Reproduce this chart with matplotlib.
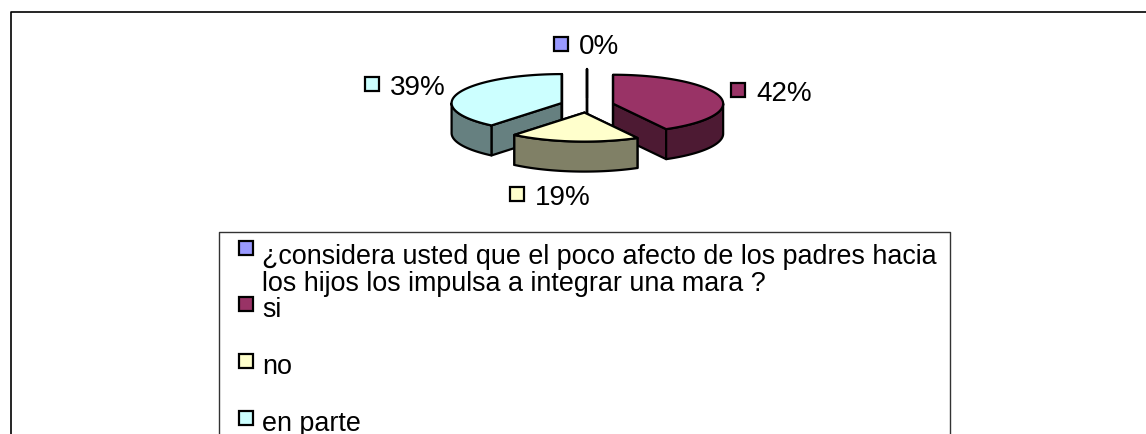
import numpy as np
import matplotlib
matplotlib.use("Agg")
import matplotlib.pyplot as plt

plt.rcParams['font.family'] = ['Liberation Sans', 'DejaVu Sans']

# chart values
categories = ["¿considera usted que el poco afecto de los padres hacia\nlos hijos los impulsa a integrar una mara ?", "si", "no", "en parte"]
values = [0, 42, 19, 39]
top_colors = ["#9999FF", "#993366", "#FFFFCC", "#CCFFFF"]
side_colors = ["#4D4D80", "#4D1A33", "#808066", "#668080"]

# pie geometry in image pixels
cx, cy = 587, 106.5
rx, ry = 110, 29
depth = 30
explode = 27
label_size = 20
legend_size = 19.4

fig = plt.figure(figsize=(11.46, 4.35), dpi=100)
ax = fig.add_axes([0, 0, 1, 1])
ax.set_xlim(0, 1146)
ax.set_ylim(435, 0)
ax.axis("off")

def rim(apex, a):
    # a is degrees clockwise from the top
    t = np.radians(a)
    return apex[0] + rx * np.sin(t), apex[1] - ry * np.cos(t)

def draw_slice(start, end, top, side):
    mid = np.radians((start + end) / 2)
    apex = (cx + explode * np.sin(mid), cy - explode * ry / rx * np.cos(mid))
    kw = dict(edgecolor="black", linewidth=1.6, joinstyle="round", zorder=3)
    # cut faces
    for a in (start, end):
        x, y = rim(apex, a)
        ax.fill([apex[0], x, x, apex[0]], [apex[1], y, y + depth, apex[1] + depth], facecolor=side, **kw)
    # outer wall, only the front half shows
    lo, hi = max(start, 90), min(end, 270)
    if hi > lo:
        xs, ys = rim(apex, np.linspace(lo, hi, 60))
        ax.fill(np.r_[xs, xs[::-1]], np.r_[ys, ys[::-1] + depth], facecolor=side, **kw)
    # top
    xs, ys = rim(apex, np.linspace(start, end, 120))
    ax.fill(np.r_[apex[0], xs], np.r_[apex[1], ys], facecolor=top, **kw)

ends = np.cumsum(values) / sum(values) * 360
starts = ends - np.array(values) / sum(values) * 360

for i in [0, 3, 1, 2]:
    draw_slice(starts[i], ends[i], top_colors[i], side_colors[i])

# outer frame, runs off the bottom and right of the image
ax.plot([10.5, 10.5, 1146], [435, 12.5, 12.5], color="black", lw=1.2, zorder=1)

def key(x, y, color):
    ax.fill([x - 7, x + 7, x + 7, x - 7], [y - 7, y - 7, y + 7, y + 7], facecolor=color,
            edgecolor="black", linewidth=1.6, zorder=4)

# data labels
label_keys = [(561, 44.5), (738, 91), (517, 195), (371.5, 85)]
for (x, y), v, c in zip(label_keys, values, top_colors):
    key(x, y, c)
    ax.text(x + 18, y + 3, f"{v}%", fontsize=label_size, va="center", ha="left", color="black", zorder=4)

# legend box
ax.plot([219, 219, 950, 950], [435, 233, 233, 435], color="#333333", lw=1.0, zorder=1)
legend_keys = [249, 305, 362, 419]
legend_text = [270.5, 310, 367, 424]
for k, ty, cat, c in zip(legend_keys, legend_text, categories, top_colors):
    key(246, k, c)
    ax.text(262, ty, cat, fontsize=legend_size, va="center", ha="left", color="black", linespacing=1.05, zorder=4)

fig.savefig("out.png", dpi=100, facecolor="white")
